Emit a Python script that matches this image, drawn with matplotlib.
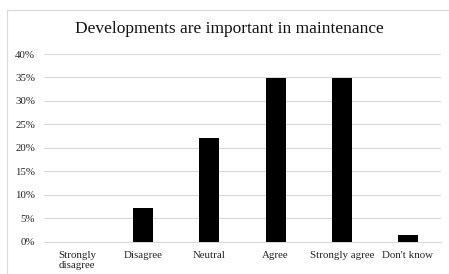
import matplotlib
matplotlib.use("Agg")
import matplotlib.pyplot as plt
from matplotlib.patches import Rectangle
from matplotlib.ticker import FuncFormatter, MultipleLocator

categories = ["Strongly\ndisagree", "Disagree", "Neutral", "Agree", "Strongly agree", "Don't know"]
values = [0.0, 7.1, 22.1, 34.8, 34.8, 1.4]
title = "Developments are important in maintenance"

plt.rcParams['font.family'] = ['Liberation Serif', 'DejaVu Serif']

W, H = 449, 274
fig = plt.figure(figsize=(W/100, H/100), dpi=100)
fig.patch.set_facecolor('white')

# outer chart frame
fig.patches.append(Rectangle((7/W, -0.1), 1.2, (H-10)/H + 0.1, transform=fig.transFigure,
                             fill=False, edgecolor='#d9d9d9', linewidth=0.8))

left, right = 44/W, 441/W
bottom, top = (H-241.7)/H, (H-54)/H
ax = fig.add_axes([left, bottom, right-left, top-bottom])

x = list(range(len(categories)))
ax.bar(x, values, width=0.30, color='black', zorder=3)
ax.set_xlim(-0.5, len(categories)-0.5)
ax.set_ylim(0, 40)
ax.yaxis.set_major_locator(MultipleLocator(5))
ax.yaxis.set_major_formatter(FuncFormatter(lambda v, p: f"{int(v)}%"))
ax.grid(axis='y', color='#d9d9d9', linewidth=0.8, zorder=0)
for s in ['top', 'right', 'left']:
    ax.spines[s].set_visible(False)
ax.spines['bottom'].set_color('#d9d9d9')
ax.spines['bottom'].set_linewidth(0.8)
ax.tick_params(axis='both', length=0, labelsize=7.8, colors='#222222')
ax.tick_params(axis='y', pad=6.5)
ax.tick_params(axis='x', pad=7)
ax.set_xticks(x)
ax.set_xticklabels(categories, linespacing=1.05, va='top')
fig.text(229.5/W, (H-29)/H, title, fontsize=12.5, color='#111111', ha='center', va='center')

fig.savefig("out.png", dpi=100, facecolor='white')
